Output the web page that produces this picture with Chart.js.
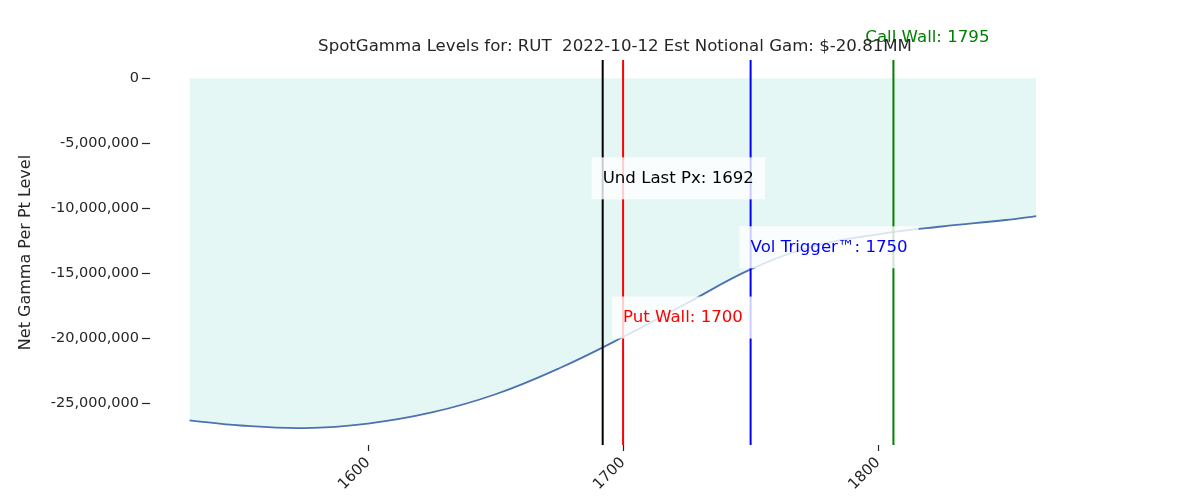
<!DOCTYPE html>
<html>
<head>
<script src="https://cdn.jsdelivr.net/npm/chart.js@4"></script>
<style>
  body { margin: 0; background: #fff; }
  #wrap { width: 1200px; height: 500px; }
</style>
</head>
<body>
<div id="wrap"><canvas id="myChart"></canvas></div>
<script>
const strikes = [1530, 1550, 1575, 1600, 1625, 1650, 1675, 1700, 1725, 1750, 1775, 1800, 1825, 1850, 1862];
const gamma = [-26.3, -26.7, -26.9, -26.55, -25.7, -24.3, -22.3, -19.9, -17.3, -14.7, -12.9, -12.0, -11.4, -10.9, -10.6].map(v => v * 1e6);
const xTicks = [1600, 1700, 1800];
const yTicks = [0, -5e6, -10e6, -15e6, -20e6, -25e6];

// vertical level lines: line x, colour, label, label anchor
const levels = [
    { x: 1692, color: 'black', label: 'Und Last Px: 1692', lx: 1692, ly: -7.7e6, box: true },
    { x: 1700, color: 'red', label: 'Put Wall: 1700', lx: 1700, ly: -18.4e6, box: true },
    { x: 1750, color: 'blue', label: 'Vol Trigger\u2122: 1750', lx: 1750, ly: -13.0e6, box: true },
    { x: 1806, color: 'green', label: 'Call Wall: 1795', lx: 1795, ly: null, box: false }
];
const title = 'SpotGamma Levels for: RUT  2022-10-12 Est Notional Gam: $-20.81MM';

const levelsPlugin = {
    id: 'levels',
    afterDatasetsDraw(chart) {
        const c = chart.ctx, a = chart.chartArea;
        const xs = chart.scales.x, ys = chart.scales.y;
        c.save();
        levels.forEach(l => {
            const px = xs.getPixelForValue(l.x);
            c.strokeStyle = l.color;
            c.lineWidth = 2;
            c.beginPath();
            c.moveTo(px, a.top);
            c.lineTo(px, a.bottom);
            c.stroke();
        });
        c.font = '16.6px "DejaVu Sans"';
        c.textBaseline = 'middle';
        levels.forEach(l => {
            const tx = xs.getPixelForValue(l.lx);
            const ty = l.ly === null ? 38 : ys.getPixelForValue(l.ly);
            const w = c.measureText(l.label).width;
            if (l.box) {
                c.fillStyle = 'rgba(255,255,255,0.8)';
                c.fillRect(tx - 11, ty - 21, w + 22, 42);
            }
            c.fillStyle = l.color;
            c.fillText(l.label, tx, ty);
        });
        c.fillStyle = '#262626';
        c.textAlign = 'center';
        c.fillText(title, 615, 47);
        c.restore();
    }
};

new Chart(document.getElementById('myChart'), {
    type: 'line',
    data: {
        datasets: [{
            data: strikes.map((s, i) => ({ x: s, y: gamma[i] })),
            borderColor: '#4c72b0',
            borderWidth: 1.8,
            pointRadius: 0,
            tension: 0.4,
            fill: { value: 0 },
            backgroundColor: 'rgba(0,180,150,0.1)'
        }]
    },
    options: {
        responsive: true,
        maintainAspectRatio: false,
        animation: false,
        layout: { padding: { top: 60, right: 100, left: 12, bottom: 0 } },
        plugins: { legend: { display: false }, tooltip: { enabled: false } },
        scales: {
            x: {
                type: 'linear',
                min: 1514.5,
                max: 1887,
                border: { display: false },
                grid: { display: true, drawOnChartArea: false, tickLength: 6, tickColor: '#262626', tickWidth: 1.2 },
                afterBuildTicks: s => { s.ticks = xTicks.map(v => ({ value: v })); },
                afterFit: s => { s.height = 55; },
                ticks: { color: '#262626', font: { size: 15, family: 'DejaVu Sans' }, maxRotation: 45, minRotation: 45, callback: v => String(v) }
            },
            y: {
                min: -28.2e6,
                max: 1.4e6,
                border: { display: false },
                grid: { display: true, drawOnChartArea: false, tickLength: 8, tickColor: '#262626', tickWidth: 1.2 },
                afterBuildTicks: s => { s.ticks = yTicks.map(v => ({ value: v })); },
                afterFit: s => { s.width = 138; },
                title: { display: true, text: 'Net Gamma Per Pt Level', color: '#262626', font: { size: 16, family: 'DejaVu Sans' } },
                ticks: { color: '#262626', font: { size: 14.5, family: 'DejaVu Sans' }, callback: v => v.toLocaleString('en-US') }
            }
        }
    },
    plugins: [levelsPlugin]
});
</script>
</body>
</html>
